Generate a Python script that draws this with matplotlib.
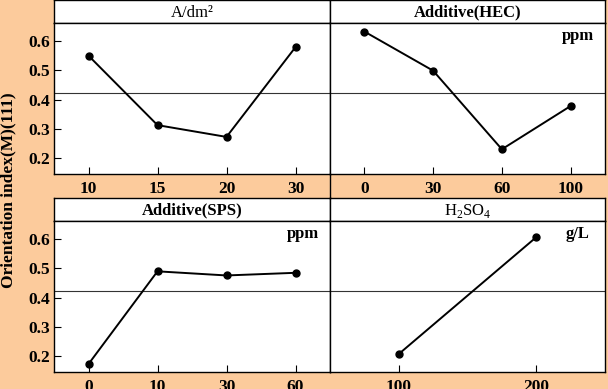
import matplotlib
matplotlib.use("Agg")
import matplotlib.pyplot as plt
from matplotlib.lines import Line2D

plt.rcParams['font.family'] = ['Liberation Serif', 'DejaVu Serif']
plt.rcParams['mathtext.fontset'] = 'custom'
plt.rcParams['mathtext.rm'] = 'Liberation Serif'

# Data
titles = ["A/dm²", "Additive(HEC)", "Additive(SPS)", r"H$_\mathregular{2}$SO$_\mathregular{4}$"]
title_bold = [False, True, True, False]
units = ["", "ppm", "ppm", "g/L"]
cats_current = ["10", "15", "20", "30"]
vals_current = [0.549, 0.313, 0.273, 0.578]
cats_hec = ["0", "30", "60", "100"]
vals_hec = [0.631, 0.498, 0.231, 0.378]
cats_sps = ["0", "10", "30", "60"]
vals_sps = [0.174, 0.489, 0.475, 0.484]
cats_h2so4 = ["100", "200"]
vals_h2so4 = [0.208, 0.605]
mean_level = 0.422
yticks = [0.2, 0.3, 0.4, 0.5, 0.6]

cats = [cats_current, cats_hec, cats_sps, cats_h2so4]
vals = [vals_current, vals_hec, vals_sps, vals_h2so4]

W, H = 608, 389
bg = '#FCCB9C'
fig = plt.figure(figsize=(W / 100, H / 100), dpi=100, facecolor=bg)

def rect(x0, y0, x1, y1):
    return [x0 / W, 1 - y1 / H, (x1 - x0) / W, (y1 - y0) / H]

cols = [(54, 330), (330, 605)]
rows = [(0, 23, 174), (198, 221, 372)]

for i in range(4):
    r, c = divmod(i, 2)
    x0, x1 = cols[c]
    yh, yp, yb = rows[r]
    # header strip
    hax = fig.add_axes(rect(x0, yh, x1, yp))
    hax.set_facecolor('white')
    hax.set_xticks([]); hax.set_yticks([])
    for s in hax.spines.values():
        s.set_linewidth(1.0)
    hax.text(0.5, 0.45, titles[i], ha='center', va='center', fontsize=12,
             fontweight='bold' if title_bold[i] else 'normal', transform=hax.transAxes)
    # plot area
    ax = fig.add_axes(rect(x0, yp, x1, yb))
    ax.set_facecolor('white')
    for s in ax.spines.values():
        s.set_linewidth(1.0)
    n = len(cats[i])
    xs = list(range(n))
    ax.axhline(mean_level, color='#333333', lw=0.8, zorder=1)
    ax.plot(xs, vals[i], color='black', lw=1.4, marker='o', ms=5, zorder=3)
    ax.set_xlim(-0.5, n - 0.5)
    ax.set_ylim(0.147, 0.66)
    ax.set_xticks(xs)
    ax.set_xticklabels(cats[i], fontsize=12.5, fontweight='bold')
    ax.tick_params(axis='x', direction='in', length=5, width=0.8, pad=5)
    if c == 0:
        ax.set_yticks(yticks)
        ax.set_yticklabels([f"{v:.1f}" for v in yticks], fontsize=12.5, fontweight='bold')
        ax.tick_params(axis='y', direction='in', length=5, width=0.8, pad=3)
    else:
        ax.set_yticks([])
    if units[i]:
        ax.text(0.90, 0.915, units[i], ha='center', va='center', fontsize=12,
                fontweight='semibold', transform=ax.transAxes)

# vertical divider through tick-label band
fig.add_artist(Line2D([330 / W, 330 / W], [1 - 198 / H, 1 - 174 / H], color='black', lw=1.0))

fig.text(8 / W, 1 - 190 / H, "Orientation index(M)(111)", rotation=90, ha='center', va='center',
         fontsize=12.5, fontweight='bold')

fig.savefig('out.png', dpi=100, facecolor=bg)
